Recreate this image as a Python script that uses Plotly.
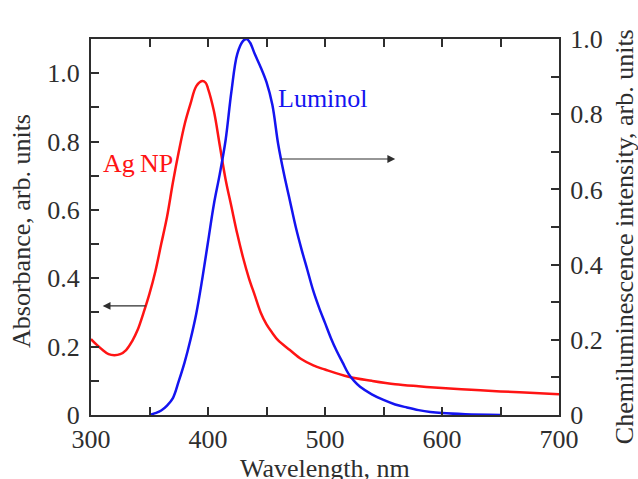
import plotly.graph_objects as go

# AgNP absorbance (left axis)
agnp_nm = [300, 305, 310, 315, 320, 325, 330, 335, 340, 345, 350, 355, 360, 365, 370,
           375, 380, 385, 390, 395, 398, 400, 405, 410, 415, 420, 425, 430, 435, 440,
           445, 450, 455, 460, 470, 480, 490, 500, 520, 540, 560, 580, 600, 625, 650,
           675, 700]
agnp_abs = [0.222, 0.205, 0.19, 0.178, 0.175, 0.178, 0.19, 0.215, 0.25, 0.3, 0.355, 0.42,
            0.5, 0.58, 0.68, 0.77, 0.85, 0.91, 0.962, 0.977, 0.972, 0.955, 0.89, 0.79,
            0.69, 0.61, 0.53, 0.46, 0.4, 0.35, 0.30, 0.265, 0.24, 0.218, 0.19, 0.163,
            0.145, 0.133, 0.112, 0.1, 0.09, 0.084, 0.079, 0.074, 0.069, 0.065, 0.061]

# Luminol chemiluminescence (right axis)
lum_nm = [350, 355, 360, 365, 370, 375, 380, 385, 390, 395, 400, 405, 410, 415, 420,
          425, 430, 433, 436, 440, 445, 450, 455, 460, 465, 470, 475, 480, 485, 490,
          495, 500, 505, 510, 515, 520, 525, 530, 540, 550, 560, 570, 580, 590, 600,
          620, 650]
lum_int = [0.0, 0.005, 0.012, 0.025, 0.045, 0.09, 0.14, 0.2, 0.27, 0.36, 0.46, 0.56,
           0.64, 0.73, 0.86, 0.96, 0.995, 1.0, 0.99, 0.96, 0.925, 0.885, 0.825, 0.72,
           0.64, 0.57, 0.5, 0.44, 0.385, 0.33, 0.285, 0.245, 0.205, 0.17, 0.14, 0.11,
           0.09, 0.075, 0.055, 0.04, 0.028, 0.02, 0.013, 0.008, 0.005, 0.002, 0.0]

x_ticks = [300, 400, 500, 600, 700]
left_ticks = [0, 0.2, 0.4, 0.6, 0.8, 1.0]
left_labels = ["0", "0.2", "0.4", "0.6", "0.8", "1.0"]
right_ticks = [0, 0.2, 0.4, 0.6, 0.8, 1.0]
right_labels = ["0", "0.2", "0.4", "0.6", "0.8", "1.0"]

FONT = "Liberation Serif, Times New Roman, serif"
INK = "#2e2e2e"
RED = "#ff1414"
BLUE = "#1414f0"
SIZE = 26

fig = go.Figure()
fig.add_trace(go.Scatter(x=agnp_nm, y=agnp_abs, mode="lines", line_shape="spline",
                         line={"color": RED, "width": 2.5}, name="AgNP", yaxis="y"))
fig.add_trace(go.Scatter(x=lum_nm, y=lum_int, mode="lines", line_shape="spline",
                         line={"color": BLUE, "width": 2.5}, name="Luminol", yaxis="y2"))

minor_ticks = {"ticks": "inside", "ticklen": 8, "tickcolor": INK, "tickwidth": 1.5}
axis_common = dict(
    showline=True, linecolor=INK, linewidth=2, showgrid=False, zeroline=False,
    ticks="inside", ticklen=8, tickwidth=1.5, tickcolor=INK, automargin=False,
    tickfont={"family": FONT, "size": SIZE, "color": INK},
)

fig.update_layout(
    width=638, height=479,
    margin={"l": 91, "r": 79, "t": 39, "b": 64},
    paper_bgcolor="white", plot_bgcolor="white",
    showlegend=False,
    xaxis=dict(**axis_common, range=[300, 700], tickvals=x_ticks, mirror="ticks",
               minor={"dtick": 50, **minor_ticks}),
    yaxis=dict(**axis_common, range=[0, 1.1], tickvals=left_ticks, ticktext=left_labels,
               ticklabelstandoff=4, minor={"dtick": 0.1, **minor_ticks}),
    yaxis2=dict(**axis_common, range=[0, 1.0], tickvals=right_ticks, ticktext=right_labels,
                ticklabelstandoff=4, overlaying="y", side="right",
                minor={"dtick": 0.1, **minor_ticks}),
)

title_font = {"family": FONT, "size": SIZE, "color": INK}
fig.add_annotation(x=0.5, y=-0.141, xref="paper", yref="paper", text="Wavelength, nm",
                   showarrow=False, font=title_font, xanchor="center", yanchor="middle")
fig.add_annotation(x=-0.147, y=0.49, xref="paper", yref="paper", text="Absorbance, arb. units",
                   showarrow=False, font=title_font, textangle=-90,
                   xanchor="center", yanchor="middle")
fig.add_annotation(x=1.139, y=0.473, xref="paper", yref="paper",
                   text="Chemiluminescence intensity, arb. units",
                   showarrow=False, font=title_font, textangle=-90,
                   xanchor="center", yanchor="middle")

fig.add_annotation(x=340, y=0.735, xref="x", yref="y", text="Ag\u2009NP", showarrow=False,
                   font={"family": FONT, "size": SIZE, "color": RED})
fig.add_annotation(x=498, y=0.925, xref="x", yref="y", text="Luminol", showarrow=False,
                   font={"family": FONT, "size": SIZE, "color": BLUE})
# direction arrows
fig.add_annotation(x=310, y=0.319, ax=348, ay=0.319, xref="x", yref="y", axref="x", ayref="y",
                   text="", showarrow=True, arrowhead=2, arrowsize=1.3, arrowwidth=1.2,
                   arrowcolor=INK)
fig.add_annotation(x=560, y=0.749, ax=461, ay=0.749, xref="x", yref="y", axref="x", ayref="y",
                   text="", showarrow=True, arrowhead=2, arrowsize=1.3, arrowwidth=1.2,
                   arrowcolor=INK)

# drop the page's default body margin so the 638x479 figure fills the window exactly
fig.write_html("out.html", config={"displayModeBar": False},
               post_script="document.body.style.margin='0';document.body.style.overflow='hidden';")
